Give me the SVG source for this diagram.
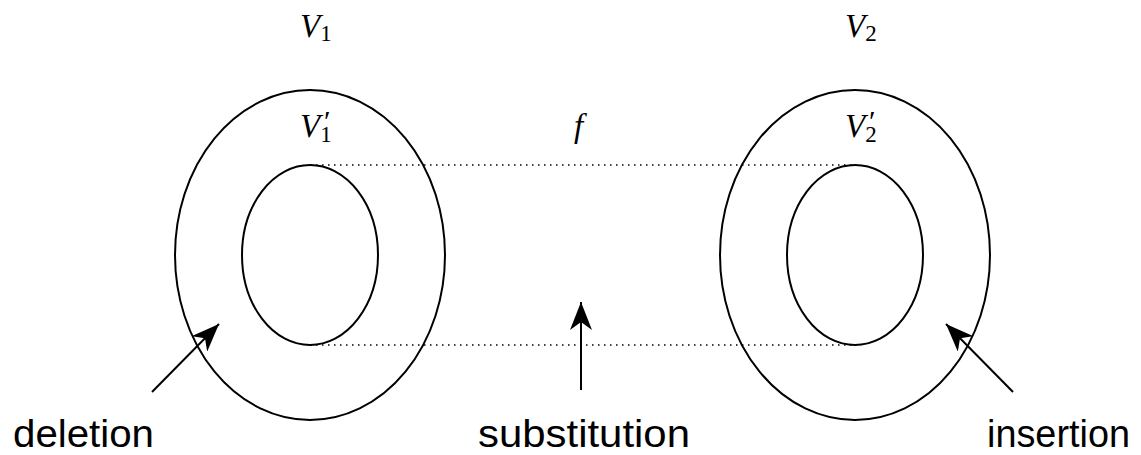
<svg xmlns="http://www.w3.org/2000/svg" width="1141" height="455" viewBox="0 0 1141 455">
<style>
.sh{fill:none;stroke:#000;stroke-width:2}
.dot{fill:none;stroke:#000;stroke-width:1.5;stroke-dasharray:1.5 4.5}
.ar{fill:none;stroke:#000;stroke-width:2}
.m{font-family:"Liberation Serif",serif;font-style:italic;font-size:33px;fill:#000}
.sub{font-size:23px;font-style:normal}
.pr{font-style:normal;font-size:30px}
.lb{font-family:"Liberation Sans",Arial,sans-serif;font-size:39px;fill:#000}
</style>
<defs>
<marker id="a2" viewBox="0 0 28 22" refX="28" refY="11" markerWidth="28" markerHeight="22" markerUnits="userSpaceOnUse" orient="auto">
<path d="M0,0 L28,11 L0,22 L8,11 z" fill="#000"/>
</marker>
</defs>
<g id="left-outer"><ellipse class="sh" cx="310" cy="255" rx="135" ry="165"/></g>
<g id="left-inner"><ellipse class="sh" cx="310" cy="255" rx="68" ry="90"/></g>
<g id="right-outer"><ellipse class="sh" cx="855" cy="255" rx="135" ry="165"/></g>
<g id="right-inner"><ellipse class="sh" cx="855" cy="255" rx="68" ry="90"/></g>
<g id="connectors">
<line class="dot" x1="310" y1="165" x2="855" y2="165"/>
<line class="dot" x1="310" y1="345" x2="855" y2="345"/>
<line class="ar" x1="152" y1="392" x2="219" y2="324" marker-end="url(#a2)"/>
<line class="ar" x1="581" y1="390" x2="581" y2="302" marker-end="url(#a2)"/>
<line class="ar" x1="1013" y1="392" x2="946" y2="324" marker-end="url(#a2)"/>
</g>
<g id="labels">
<text class="m" x="300" y="37">V<tspan class="sub" dy="4">1</tspan></text>
<text class="m" x="300" y="137">V<tspan class="sub" dy="5">1</tspan><tspan class="pr" x="324" y="131">′</tspan></text>
<text class="m" x="574" y="137">f</text>
<text class="m" x="845" y="37">V<tspan class="sub" dy="4">2</tspan></text>
<text class="m" x="845" y="137">V<tspan class="sub" dy="5">2</tspan><tspan class="pr" x="869" y="131">′</tspan></text>
<text class="lb" x="13" y="447" textLength="141" lengthAdjust="spacingAndGlyphs">deletion</text>
<text class="lb" x="478" y="447" textLength="212" lengthAdjust="spacingAndGlyphs">substitution</text>
<text class="lb" x="987" y="447" textLength="143" lengthAdjust="spacingAndGlyphs">insertion</text>
</g>
</svg>
